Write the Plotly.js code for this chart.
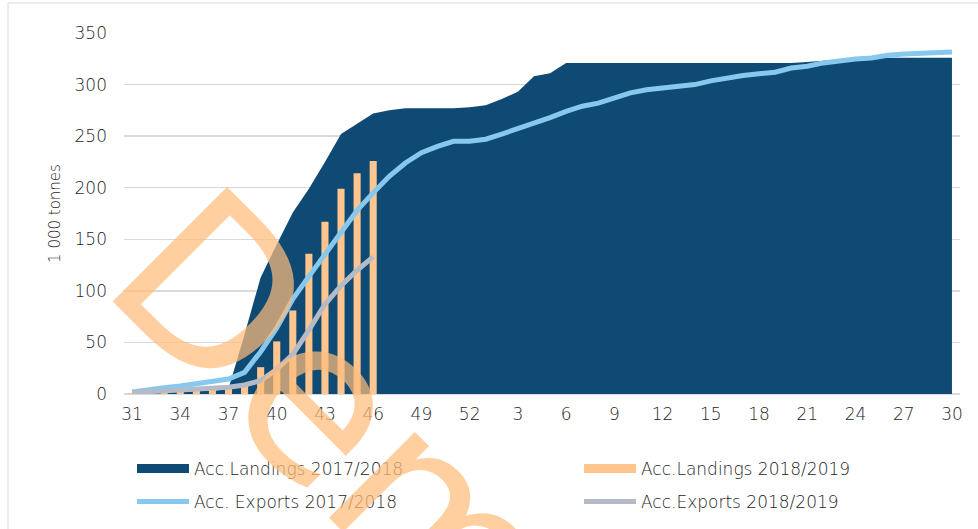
<!DOCTYPE html>
<html>
<head>
<meta charset="utf-8">
<script src="https://cdn.plot.ly/plotly-3.0.1.min.js"></script>
<style>
html,body{margin:0;padding:0;background:#fff;}
#chart{width:978px;height:529px;}
</style>
</head>
<body>
<div id="chart"></div>
<script>
// ---- DATA ----
var weeks = ['31','32','33','34','35','36','37','38','39','40','41','42','43','44','45','46','47','48','49','50','51','52',
             '1','2','3','4','5','6','7','8','9','10','11','12','13','14','15','16','17','18','19','20','21','22','23','24','25','26','27','28','29','30'];

var tickLabels = ['31','34','37','40','43','46','49','52','3','6','9','12','15','18','21','24','27','30'];

// Acc.Landings 2017/2018 (area)
var landings1718 = [1,1,2,2,3,3,5,58,113,145,176,199,225,252,262,272,275,277,277,277,277,278,
                    280,286,293,308,311,321,321,321,321,321,321,321,321,321,321,321,321,321,321,321,322,323,324,325,325,326,326,326,326,326];

// Acc.Landings 2018/2019 (bars)
var landings1819 = [1,1,2,2,4,5,6,9,26,51,81,136,167,199,214,226];

// Acc. Exports 2017/2018 (light blue line)
var exports1718 = [2,4.5,6,7.8,9.7,11.6,14.5,21,41,64,92,114,135,156,178,195,211,224,234,240,245,245,
                   247,252,257,263,268,274,279,282,287,292,295,297,298,300,303.6,306.8,308.8,310.4,312,316,317.7,321,323.5,324.8,325.8,328.4,329.7,330.7,331.4,331.7];

// Acc.Exports 2018/2019 (grey line)
var exports1819 = [1.3,2,3,4,5,6,6.5,8.7,13,24,38.5,62,87,105,120,133];

var seriesNames = ['Acc.Landings 2017/2018','Acc.Landings 2018/2019','Acc. Exports 2017/2018','Acc.Exports 2018/2019'];
var watermarkText = 'Demo';

// ---- STYLE ----
var cArea = '#0e4a73', cBar = '#ffc58f', cLight = '#86c8ee', cGrey = '#b4bbc7';
var fontFam = '"DejaVu Sans", Lato, sans-serif';
var fw = 200, txt = '#1e1e1e';
var W = 978, H = 529, mL = 124, mR = 18, mT = 33, mB = 135;
var pw = W - mL - mR, ph = H - mT - mB;
function px(x){ return (x - mL) / pw; }
function py(y){ return (H - mB - y) / ph; }

var traces = [
  {type:'scatter', x:weeks, y:landings1718, mode:'none', fill:'tozeroy', fillcolor:cArea,
   xaxis:'x', yaxis:'y', showlegend:false, hoverinfo:'skip'},
  {type:'bar', x:weeks.slice(0, landings1819.length), y:landings1819, marker:{color:cBar},
   xaxis:'x', yaxis:'y2', showlegend:false},
  {type:'scatter', x:weeks, y:exports1718, mode:'lines', line:{color:cLight, width:5},
   xaxis:'x', yaxis:'y2', showlegend:false},
  {type:'scatter', x:weeks.slice(0, exports1819.length), y:exports1819, mode:'lines', line:{color:cGrey, width:5},
   xaxis:'x', yaxis:'y2', showlegend:false},
  // legend entries
  {type:'scatter', x:[null], y:[null], mode:'lines', line:{color:cArea, width:9}, name:seriesNames[0], legend:'legend'},
  {type:'scatter', x:[null], y:[null], mode:'lines', line:{color:cBar, width:9}, name:seriesNames[1], legend:'legend2'},
  {type:'scatter', x:[null], y:[null], mode:'lines', line:{color:cLight, width:5}, name:seriesNames[2], legend:'legend3'},
  {type:'scatter', x:[null], y:[null], mode:'lines', line:{color:cGrey, width:5}, name:seriesNames[3], legend:'legend4'}
];

function leg(x, y){
  return {x:x, y:y, xanchor:'left', yanchor:'middle', orientation:'v', itemwidth:52,
          font:{family:fontFam, size:17, color:txt, weight:fw}, bgcolor:'rgba(0,0,0,0)', borderwidth:0};
}

var layout = {
  width:W, height:H,
  margin:{l:mL, r:mR, t:mT, b:mB, autoexpand:false},
  paper_bgcolor:'#ffffff', plot_bgcolor:'#ffffff',
  showlegend:true,
  bargap:0.56,
  font:{family:fontFam, color:txt},
  xaxis:{type:'category', categoryorder:'array', categoryarray:weeks, range:[-0.5, 51.5],
         tickvals:tickLabels, ticktext:tickLabels, showgrid:false, zeroline:false, showline:false,
         ticks:'', ticklabelstandoff:8, tickfont:{family:fontFam, size:17, color:txt, weight:fw}},
  yaxis:{range:[0,350], dtick:50, showgrid:true, gridcolor:'#d9d9d9', gridwidth:1.3,
         zeroline:true, zerolinecolor:'#d9d9d9', zerolinewidth:1.5, showline:false, ticks:'',
         ticklabelstandoff:16, tickfont:{family:fontFam, size:17, color:txt, weight:fw},
         title:{text:'1 000 tonnes', font:{family:fontFam, size:15, color:txt, weight:fw}, standoff:10}},
  yaxis2:{range:[0,350], overlaying:'y', side:'right', showgrid:false, zeroline:false,
          showticklabels:false, ticks:'', showline:false},
  legend:leg(px(132), py(469)),
  legend2:leg(px(579), py(469)),
  legend3:leg(px(132), py(502)),
  legend4:leg(px(579), py(502)),
  shapes:[{type:'rect', xref:'paper', yref:'paper', x0:px(8), x1:px(1000), y0:py(560), y1:py(3),
           line:{color:'#d9d9d9', width:1}, fillcolor:'rgba(0,0,0,0)', layer:'below'}],
  annotations:[{text:watermarkText, xref:'paper', yref:'paper', x:px(385), y:py(465),
                xanchor:'center', yanchor:'middle', showarrow:false, textangle:45,
                font:{family:fontFam, size:222, color:'rgba(255,188,123,0.72)'}}]
};

Plotly.newPlot('chart', traces, layout, {staticPlot:true, displayModeBar:false});
</script>
</body>
</html>
